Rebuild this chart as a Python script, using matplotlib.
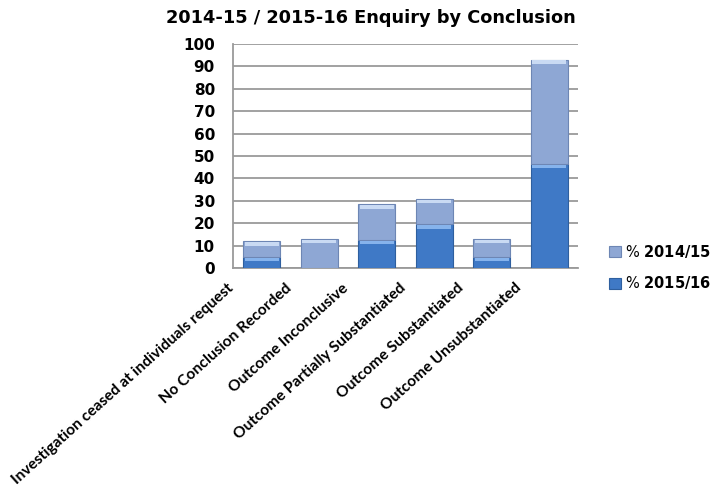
import matplotlib.pyplot as plt
import matplotlib.transforms as mtransforms
import numpy as np

# Enquiry conclusions, percentage per year
categorias = ['Investigation ceased at individuals request',
              'No Conclusion Recorded',
              'Outcome Inconclusive',
              'Outcome Partially Substantiated',
              'Outcome Substantiated',
              'Outcome Unsubstantiated']
pct_2015_16 = [5, 0, 12.5, 19.5, 5, 46.5]
pct_2014_15 = [7, 13, 16, 11.5, 8, 46.5]

cor_15_16 = '#3f79c6'
cor_14_15 = '#8ea7d4'
brilho_15_16 = '#86b3ec'
brilho_14_15 = '#c9daf3'

plt.rcParams['mathtext.fontset'] = 'dejavusans'

fig = plt.figure(figsize=(7.18, 4.93), dpi=100)
ax = fig.add_axes([0.3245, 0.456, 0.4805, 0.455])

x = np.arange(len(categorias))
largura = 0.65
base = np.array(pct_2015_16)
topo = base + np.array(pct_2014_15)

b1 = ax.bar(x, pct_2015_16, largura, color=cor_15_16, edgecolor='#2e5f9f',
            linewidth=0.8, zorder=3)
b2 = ax.bar(x, pct_2014_15, largura, bottom=base, color=cor_14_15,
            edgecolor='#6d86b4', linewidth=0.8, zorder=3)

# faixa clara no topo de cada segmento (efeito de relevo)
faixa = 1.5
for xi, v, t in zip(x, base, topo):
    if v > 0:
        ax.bar(xi, faixa, largura * 0.9, bottom=v - faixa - 0.4,
               color=brilho_15_16, linewidth=0, zorder=4)
    if t - v > 0:
        ax.bar(xi, faixa, largura * 0.9, bottom=t - faixa - 0.4,
               color=brilho_14_15, linewidth=0, zorder=4)

ax.set_ylim(0, 100)
ax.set_xlim(-0.5, len(categorias) - 0.5)
ax.set_yticks(np.arange(0, 101, 10))
ax.yaxis.grid(True, color='#9a9a9a', linewidth=1.3, zorder=0)
ax.set_axisbelow(True)

for lado in ['top', 'right']:
    ax.spines[lado].set_visible(False)
for lado in ['left', 'bottom']:
    ax.spines[lado].set_color('#9a9a9a')
    ax.spines[lado].set_linewidth(1.3)

ax.tick_params(axis='y', length=0, pad=13)
ax.tick_params(axis='x', length=0)
for rotulo in ax.get_yticklabels():
    rotulo.set_fontweight('bold')
    rotulo.set_fontsize(11)
    rotulo.set_family('DejaVu Sans')

ax.set_xticks(x)
ax.set_xticklabels(categorias, rotation=42, ha='right', va='center',
                   rotation_mode='anchor', fontsize=11.2, fontweight='bold',
                   family='Lato')
deslocamento = mtransforms.ScaledTranslation(-30 / 100, -13 / 100,
                                             fig.dpi_scale_trans)
for rotulo in ax.get_xticklabels():
    rotulo.set_transform(rotulo.get_transform() + deslocamento)

fig.text(0.517, 0.963, '2014-15 / 2015-16 Enquiry by Conclusion',
         ha='center', va='center', fontsize=12.8, fontweight='bold',
         family='DejaVu Sans')

ax.legend([b2, b1], [r'% $\mathbf{2014/15}$', r'% $\mathbf{2015/16}$'],
          loc='center left', bbox_to_anchor=(0.84, 0.458),
          bbox_transform=fig.transFigure, frameon=False, fontsize=10.5,
          handlelength=0.8, handleheight=0.8, handletextpad=0.3,
          labelspacing=1.0, borderaxespad=0)

fig.savefig('out.png', dpi=100)
